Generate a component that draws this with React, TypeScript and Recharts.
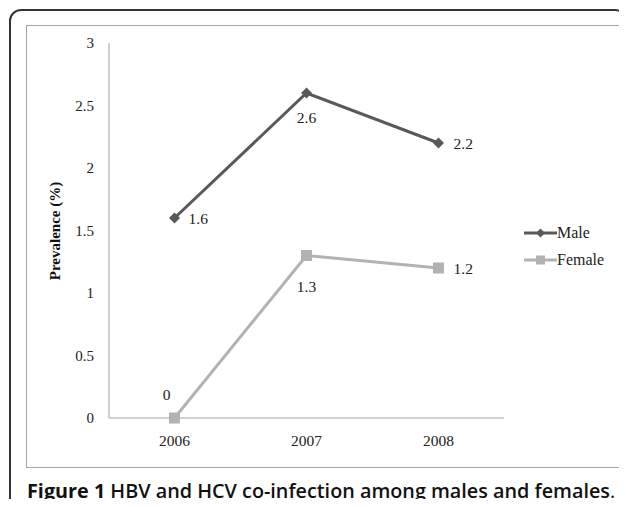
import { LineChart, Line, XAxis, YAxis, Legend, LabelList } from "recharts";

const years = ["2006", "2007", "2008"];
const maleValues = [1.6, 2.6, 2.2];
const femaleValues = [0, 1.3, 1.2];
const yTicks = [0, 0.5, 1, 1.5, 2, 2.5, 3];

const data = years.map((year, i) => ({
  year,
  male: maleValues[i],
  female: femaleValues[i],
}));

const MALE = "#595959";
const FEMALE = "#b2b2b2";
const SERIF = "'Liberation Serif', 'Times New Roman', serif";

function Diamond({ cx, cy, color, r = 5.5 }: any) {
  if (cx == null || cy == null) return null;
  return (
    <polygon
      points={`${cx},${cy - r} ${cx + r},${cy} ${cx},${cy + r} ${cx - r},${cy}`}
      fill={color}
      stroke="none"
    />
  );
}

function Square({ cx, cy, color, s = 11 }: any) {
  if (cx == null || cy == null) return null;
  return <rect x={cx - s / 2} y={cy - s / 2} width={s} height={s} fill={color} stroke="none" />;
}

// where each value label sits relative to its point
function pointLabel(places: [number, number, string][]) {
  return (props: any) => {
    const { x, y, value, index } = props;
    const [dx, dy, anchor] = places[index];
    return (
      <text
        x={x + dx}
        y={y + dy}
        textAnchor={anchor}
        dominantBaseline="central"
        style={{ fontFamily: SERIF, fontSize: 15.5 }}
        fill="#222"
      >
        {value}
      </text>
    );
  };
}

function LegendBox({ payload }: any) {
  const items = [...(payload || [])].sort((a: any) => (a.dataKey === "male" ? -1 : 1));
  return (
    <div style={{ display: "flex", flexDirection: "column", gap: 8 }}>
      {items.map((p: any) => (
        <div key={p.dataKey} style={{ display: "flex", alignItems: "center", height: 19 }}>
          <svg width={33} height={14}>
            <line x1={0} y1={7} x2={33} y2={7} stroke={p.color} strokeWidth={3} />
            {p.dataKey === "male" ? (
              <Diamond cx={16.5} cy={7} color={p.color} r={4.5} />
            ) : (
              <Square cx={16.5} cy={7} color={p.color} s={9} />
            )}
          </svg>
          <span style={{ fontFamily: SERIF, fontSize: 16, color: "#222" }}>{p.value}</span>
        </div>
      ))}
    </div>
  );
}

export default function App() {
  return (
    <div
      style={{
        position: "relative",
        width: 627,
        height: 507,
        margin: -8,
        overflow: "hidden",
        background: "#fff",
      }}
    >
      {/* outer rounded frame, open at the bottom */}
      <div
        style={{
          position: "absolute",
          left: 9,
          top: 9,
          width: 614,
          height: 540,
          border: "2px solid #333",
          borderRadius: 12,
        }}
      />
      {/* inner chart frame */}
      <div
        style={{
          position: "absolute",
          left: 26,
          top: 25,
          width: 592,
          height: 441,
          border: "1px solid #a6a6a6",
        }}
      />
      <div style={{ position: "absolute", left: 0, top: 0 }}>
        {/* right margin is smaller because the legend box reserves its own width */}
        <LineChart width={627} height={507} data={data} margin={{ top: 43, right: 33, bottom: 49, left: 49 }}>
          <XAxis
            dataKey="year"
            padding={{ left: 65.5, right: 65.5 }}
            axisLine={{ stroke: "#bfbfbf", strokeWidth: 1.5 }}
            tickLine={false}
            tickSize={0}
            tickMargin={17}
            tick={{ fontFamily: SERIF, fontSize: 15.5, fill: "#222" }}
            height={40}
          />
          <YAxis
            domain={[0, 3]}
            ticks={yTicks}
            width={60}
            axisLine={{ stroke: "#bfbfbf", strokeWidth: 1.5 }}
            tickLine={false}
            tickSize={0}
            tickMargin={15}
            tick={{ fontFamily: SERIF, fontSize: 15, fill: "#222" }}
            label={{
              content: () => (
                <text
                  transform="translate(55,231) rotate(-90)"
                  textAnchor="middle"
                  dominantBaseline="central"
                  fontFamily={SERIF}
                  fontSize={15}
                  fontWeight="bold"
                  fill="#111"
                >
                  Prevalence (%)
                </text>
              ),
            }}
          />
          <Legend
            layout="horizontal"
            verticalAlign="middle"
            align="right"
            content={<LegendBox />}
            wrapperStyle={{ left: 524, top: 223, width: 90 }}
          />
          <Line
            dataKey="male"
            name="Male"
            stroke={MALE}
            strokeWidth={3}
            isAnimationActive={false}
            dot={(p: any) => <Diamond key={`m${p.index}`} cx={p.cx} cy={p.cy} color={MALE} />}
            activeDot={false}
          >
            <LabelList dataKey="male" content={pointLabel([[14, 0, "start"], [0, 24, "middle"], [15, 0, "start"]])} />
          </Line>
          <Line
            dataKey="female"
            name="Female"
            stroke={FEMALE}
            strokeWidth={3}
            isAnimationActive={false}
            dot={(p: any) => <Square key={`f${p.index}`} cx={p.cx} cy={p.cy} color={FEMALE} />}
            activeDot={false}
          >
            <LabelList dataKey="female" content={pointLabel([[-8, -24, "middle"], [0, 31, "middle"], [15, 0, "start"]])} />
          </Line>
        </LineChart>
      </div>
      <div
        style={{
          position: "absolute",
          left: 27,
          top: 478,
          fontFamily: "'Open Sans', sans-serif",
          fontSize: 19.8,
          lineHeight: "25px",
          fontWeight: 600,
          color: "#111",
          whiteSpace: "nowrap",
        }}
      >
        <span style={{ fontWeight: 700 }}>Figure 1</span> HBV and HCV co-infection among males and females
        <span style={{ fontWeight: 400 }}>.</span>
      </div>
    </div>
  );
}
